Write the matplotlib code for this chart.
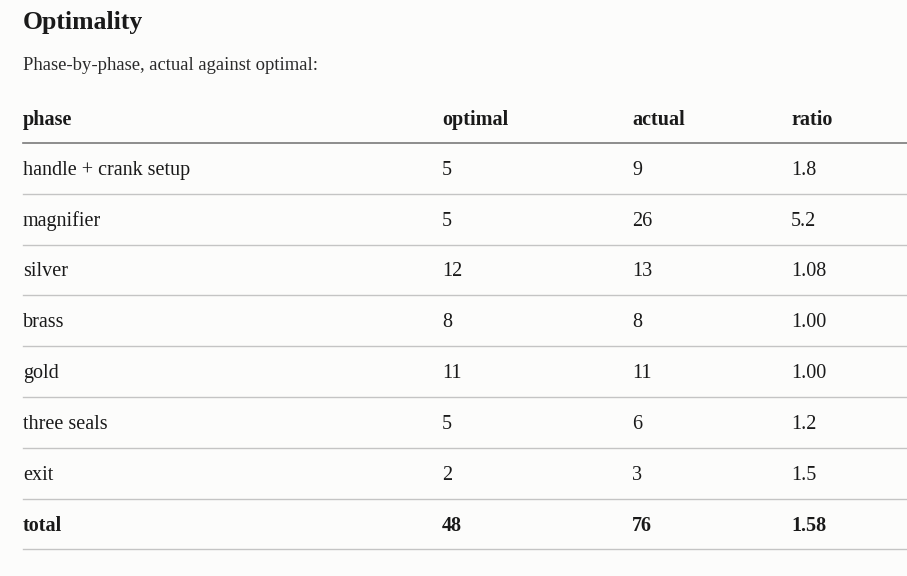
import matplotlib.pyplot as plt

# table contents
phases = ["handle + crank setup", "magnifier", "silver", "brass", "gold",
          "three seals", "exit"]
optimal = [5, 5, 12, 8, 11, 5, 2]
actual = [9, 26, 13, 8, 11, 6, 3]
ratio = ["1.8", "5.2", "1.08", "1.00", "1.00", "1.2", "1.5"]
total_row = ["total", "48", "76", "1.58"]
headers = ["phase", "optimal", "actual", "ratio"]

title = "Optimality"
subtitle = "Phase-by-phase, actual against optimal:"

plt.rcParams['font.family'] = ['Liberation Serif', 'DejaVu Serif']

W, H = 907, 576
bg = "#fcfcfb"
ink = "#1a1a1a"

fig = plt.figure(figsize=(W / 100, H / 100), dpi=100, facecolor=bg)
ax = fig.add_axes([0, 0, 1, 1])
ax.set_xlim(0, W)
ax.set_ylim(H, 0)
ax.axis("off")
ax.set_facecolor(bg)

col_x = [23, 442, 632, 791]
left, right = 23, 907
header_y = 120
header_line = 143
row_h = 50.8
dy = 2  # va=center sits a bit high

ax.text(left, 22, title, fontsize=18.5, fontweight="bold", color=ink,
        va="center", ha="left")
ax.text(left, 66, subtitle, fontsize=13.4, color="#2a2a2a",
        va="center", ha="left")

for x, h in zip(col_x, headers):
    ax.text(x, header_y, h, fontsize=14.5, fontweight="bold", color=ink,
            va="center", ha="left")
ax.plot([left, right], [header_line, header_line], color="#7a7a7a", lw=1.2)

rows = [[p, str(o), str(a), r] for p, o, a, r in zip(phases, optimal, actual, ratio)]
rows.append(total_row)
for i, row in enumerate(rows):
    yc = header_line + row_h * (i + 0.5) + dy
    bold = i == len(rows) - 1
    for x, val in zip(col_x, row):
        ax.text(x, yc, val, fontsize=14.5, color=ink, va="center", ha="left",
                fontweight="bold" if bold else "normal")
    yl = header_line + row_h * (i + 1)
    ax.plot([left, right], [yl, yl], color="#c4c4c4", lw=1.0)

fig.savefig("out.png", dpi=100, facecolor=bg)
